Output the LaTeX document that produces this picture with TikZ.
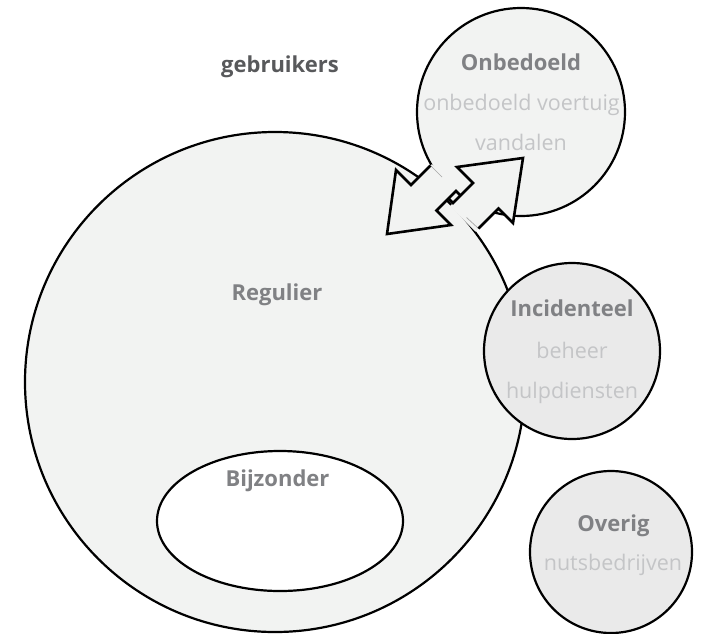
\documentclass[tikz,border=0pt]{standalone}
\usepackage{fontspec}
\setmainfont{Open Sans}
\usetikzlibrary{positioning,calc,shapes.geometric}

\definecolor{regfill}{HTML}{F2F3F2}
\definecolor{incfill}{HTML}{EAEAEA}
\definecolor{titlegray}{HTML}{808184}
\definecolor{subgray}{HTML}{C4C5C7}
\definecolor{headgray}{HTML}{58595B}

\begin{document}
\begin{tikzpicture}[x=1pt, y=-1pt,
    group/.style={circle, draw=black, line width=2.2pt, fill=regfill, inner sep=0pt},
    minor/.style={group, fill=incfill},
    special/.style={ellipse, draw=black, line width=2.2pt, fill=white, inner sep=0pt},
    title/.style={anchor=base, text=titlegray, font=\fontsize{22}{26}\selectfont\bfseries},
    member/.style={anchor=base, text=subgray, font=\fontsize{21.5}{25}\selectfont},
    head/.style={anchor=base, text=headgray, font=\fontsize{22}{26}\selectfont\bfseries},
    arrowline/.style={draw=black, line width=2.6pt},
    ghost/.style={draw=black!35, line width=0.7pt}
]
    \useasboundingbox (0,0) rectangle (702,633);

    % Groups
    \node[group, minimum size=500pt] (regulier) at (275,382) {};
    \node[special, minimum width=246pt, minimum height=140pt] (bijzonder) at (280,521) {};
    \node[group, minimum size=208pt] (onbedoeld) at (521,112) {};
    \node[minor, minimum size=176pt] (incidenteel) at (572,351) {};
    \node[minor, minimum size=162pt] (overig) at (611,552) {};

    % Two-way arrow between Regulier and Onbedoeld
    \coordinate (tipL) at (387,234);
    \coordinate (hA) at (396,170);
    \coordinate (nA) at (411,185);
    \coordinate (eA) at (430.5,165.5);
    \coordinate (eB) at (456,191);
    \coordinate (nB) at (436.5,210.5);
    \coordinate (hB) at (451,225);
    \coordinate (tipR) at (523,158);
    \coordinate (hC) at (457,167);
    \coordinate (nC) at (473,183);
    \coordinate (eC) at (453,203);
    \coordinate (eD) at (478.5,228.5);
    \coordinate (nD) at (498.5,208.5);
    \coordinate (hD) at (513,223);
    \coordinate (gapA) at (448.5,198.5);
    \coordinate (gapB) at (460.5,195.5);

    \fill[regfill] (432,164) -- (nA) -- (hA) -- (tipL) -- (hB) -- (nB) -- (457.5,189.5) -- cycle;
    \fill[regfill] (475.5,231.5) -- (nD) -- (hD) -- (tipR) -- (hC) -- (nC) -- (450,206) -- cycle;
    \fill[regfill] (gapA) -- (eB) -- (gapB) -- (eC) -- cycle;
    \draw[ghost] (eA) -- (442,177);
    \draw[ghost] (466.5,217.5) -- (eD);
    \draw[arrowline] (eA) -- (nA) -- (hA) -- (tipL) -- (hB) -- (nB) -- (eB) -- (gapB);
    \draw[arrowline] (eD) -- (nD) -- (hD) -- (tipR) -- (hC) -- (nC) -- (eC) -- (gapA);

    % Labels
    \node[head] (users) at (280,72) {gebruikers};
    \node[title] (onbTitle) at (521,70.5) {Onbedoeld};
    \node[member] (onbA) at (521.5,110) {onbedoeld voertuig};
    \node[member] (onbB) at (521,150) {vandalen};
    \node[title] (regTitle) at (277,300) {Regulier};
    \node[title] (bijTitle) at (277.5,486) {Bijzonder};
    \node[title] (incTitle) at (572,316.5) {Incidenteel};
    \node[member] (incA) at (572,358) {beheer};
    \node[member] (incB) at (572,398) {hulpdiensten};
    \node[title] (ovTitle) at (613.5,531.5) {Overig};
    \node[member] (ovA) at (613,570.5) {nutsbedrijven};
\end{tikzpicture}
\end{document}
